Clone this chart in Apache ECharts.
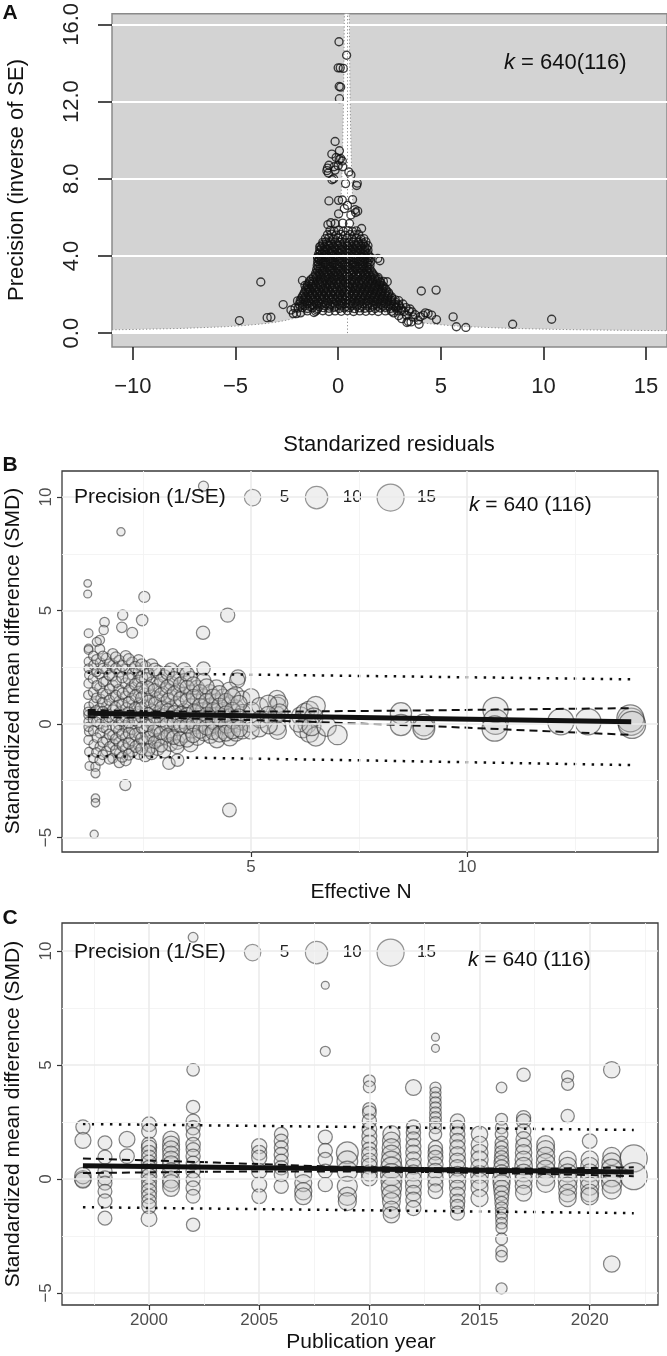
<!DOCTYPE html>
<html><head><meta charset="utf-8">
<script src="https://cdn.jsdelivr.net/npm/echarts@6/dist/echarts.min.js"></script>
<style>html,body{margin:0;padding:0;background:#fff}#c{width:667px;height:1356px}</style>
</head><body><div id="c"></div>
<script>
const FONT = '"Liberation Sans", Arial, Helvetica, sans-serif';

// ---------- Panel A : funnel of standardized residuals ----------
const ticksAx = [-10, -5, 0, 5, 10, 15];
const ticksAy = [0, 4, 8, 12, 16];
const rangeAx = [-11.02, 16.02];
const rangeAy = [-0.72, 16.55];
const funnelCenter = 0.42;
const funnelZ = 1.96;
const funnelDistances = [15.6, 13, 11.44, 10, 8, 6, 5, 4, 3.4, 3, 2.6, 2.2, 1.9, 1.6, 1.35, 1.1, 0.9, 0.75, 0.6, 0.5, 0.42, 0.35, 0.29, 0.24, 0.2, 0.17, 0.145, 0.1184];
const kLabelA = '640(116)';
const residualsA = [
[0.04,15.1],[0.41,14.4],[0.0,13.75],[0.1,13.75],[0.25,13.72],[0.05,12.78],[0.12,12.75],[0.06,12.15],
[-0.15,9.93],[0.06,9.45],[-0.31,9.28],[-0.1,9.1],[0.05,9.0],[0.2,8.92],[0.12,9.05],
[-0.45,8.7],[-0.52,8.55],[-0.2,8.62],[0.0,8.68],[0.22,8.62],[-0.55,8.42],[-0.48,8.3],[-0.15,8.45],
[0.52,8.35],[0.62,8.2],[-0.22,8.0],[-0.3,7.95],[0.93,7.77],[0.9,7.65],[0.36,7.75],
[-0.45,6.85],[0.02,6.88],[0.2,6.9],[0.7,6.92],[0.45,6.62],[0.3,6.45],[0.82,6.4],[0.95,6.32],[0.02,6.18],[0.62,6.12],[0.85,6.25],
[-0.36,5.72],[-0.5,5.62],[-0.15,5.68],[0.22,5.7],[0.55,5.68],[1.14,5.42],
[-0.4,5.32],[-0.2,5.28],[0.02,5.33],[0.25,5.27],[0.48,5.31],[0.7,5.26],[0.88,5.3],
[-0.52,5.1],[-0.33,5.13],[-0.1,5.08],[0.12,5.12],[0.35,5.07],[0.57,5.11],[0.8,5.09],[1.0,5.12],
[-0.62,4.9],[-0.45,4.93],[-0.25,4.88],[-0.02,4.92],[0.2,4.87],[0.42,4.91],[0.65,4.89],[0.88,4.93],[1.1,4.88],[1.25,4.9],
[-0.75,4.7],[-0.58,4.73],[-0.38,4.68],[-0.15,4.72],[0.08,4.69],[0.3,4.71],[0.52,4.67],[0.75,4.72],[0.98,4.7],[1.2,4.68],[1.35,4.73],
[-0.85,4.5],[-0.66,4.47],[-0.45,4.52],[-0.22,4.49],[0.0,4.53],[0.22,4.48],[0.45,4.51],[0.68,4.47],[0.9,4.52],[1.12,4.5],[1.3,4.48],[1.45,4.53],
[-0.9,4.31],[-0.7,4.28],[-0.5,4.32],[-0.28,4.27],[-0.05,4.3],[0.18,4.33],[0.4,4.28],[0.62,4.31],[0.85,4.27],[1.08,4.32],[1.3,4.29],[1.45,4.3],
[-0.95,4.1],[-0.78,4.12],[-0.55,4.08],[-0.32,4.11],[-0.1,4.07],[0.12,4.12],[0.35,4.09],[0.58,4.13],[0.8,4.08],[1.02,4.11],[1.25,4.07],[1.45,4.1],
[-1.0,3.9],[-0.82,3.88],[-0.6,3.92],[-0.38,3.87],[-0.15,3.91],[0.08,3.89],[0.3,3.93],[0.52,3.88],[0.75,3.9],[0.98,3.87],[1.2,3.92],[1.42,3.89],[1.6,3.91],[1.93,3.87],[2.03,3.75],
[-1.0,3.7],[-0.83,3.72],[-0.6,3.68],[-0.38,3.71],[-0.15,3.67],[0.07,3.72],[0.3,3.69],[0.53,3.73],[0.75,3.68],[0.97,3.7],[1.2,3.72],[1.42,3.67],[1.58,3.7],
[-1.02,3.5],[-0.85,3.47],[-0.62,3.52],[-0.4,3.48],[-0.18,3.51],[0.05,3.47],[0.28,3.52],[0.5,3.49],[0.72,3.53],[0.95,3.48],[1.18,3.5],[1.4,3.47],[1.55,3.52],
[-1.05,3.3],[-0.88,3.33],[-0.65,3.28],[-0.42,3.31],[-0.2,3.27],[0.02,3.32],[0.25,3.29],[0.48,3.33],[0.7,3.28],[0.92,3.3],[1.15,3.32],[1.38,3.27],[1.55,3.31],
[-1.1,3.1],[-0.92,3.08],[-0.7,3.12],[-0.48,3.07],[-0.25,3.11],[-0.02,3.09],[0.2,3.13],[0.42,3.08],[0.65,3.1],[0.88,3.07],[1.1,3.12],[1.32,3.09],[1.5,3.11],[1.7,3.08],
[-1.2,2.9],[-1.05,2.92],[-0.85,2.88],[-0.62,2.91],[-0.4,2.87],[-0.18,2.92],[0.05,2.89],[0.28,2.93],[0.5,2.88],[0.72,2.9],[0.95,2.92],[1.18,2.87],[1.4,2.91],[1.62,2.89],[1.8,2.92],[1.95,2.88],
[-1.4,2.7],[-1.25,2.68],[-1.02,2.72],[-0.8,2.67],[-0.58,2.71],[-0.35,2.69],[-0.12,2.73],[0.1,2.68],[0.32,2.7],[0.55,2.67],[0.78,2.72],[1.0,2.69],[1.22,2.71],[1.45,2.68],[1.68,2.72],[1.9,2.7],[2.05,2.67],[2.2,2.68],[2.39,2.66],
[-1.5,2.5],[-1.32,2.52],[-1.1,2.48],[-0.88,2.51],[-0.65,2.47],[-0.42,2.52],[-0.2,2.49],[0.02,2.53],[0.25,2.48],[0.48,2.5],[0.7,2.52],[0.92,2.47],[1.15,2.51],[1.38,2.49],[1.6,2.52],[1.82,2.48],[2.0,2.5],[2.15,2.47],
[-1.58,2.3],[-1.4,2.28],[-1.18,2.32],[-0.95,2.27],[-0.72,2.31],[-0.5,2.29],[-0.28,2.33],[-0.05,2.28],[0.18,2.3],[0.4,2.27],[0.62,2.32],[0.85,2.29],[1.08,2.31],[1.3,2.28],[1.52,2.32],[1.75,2.3],[1.98,2.27],[2.15,2.31],[2.3,2.29],
[-1.65,2.1],[-1.48,2.12],[-1.25,2.08],[-1.02,2.11],[-0.8,2.07],[-0.58,2.12],[-0.35,2.09],[-0.12,2.13],[0.1,2.08],[0.32,2.1],[0.55,2.12],[0.78,2.07],[1.0,2.11],[1.22,2.09],[1.45,2.12],[1.68,2.08],[1.9,2.1],[2.1,2.13],[2.3,2.08],[2.45,2.1],
[-1.75,1.9],[-1.6,1.88],[-1.38,1.92],[-1.15,1.87],[-0.92,1.91],[-0.7,1.89],[-0.48,1.93],[-0.25,1.88],[-0.02,1.9],[0.2,1.87],[0.42,1.92],[0.65,1.89],[0.88,1.91],[1.1,1.88],[1.32,1.92],[1.55,1.9],[1.78,1.87],[2.0,1.91],[2.22,1.89],[2.42,1.92],[2.6,1.88],
[-1.85,1.7],[-1.68,1.72],[-1.45,1.68],[-1.22,1.71],[-1.0,1.67],[-0.78,1.72],[-0.55,1.69],[-0.32,1.73],[-0.1,1.68],[0.12,1.7],[0.35,1.72],[0.58,1.67],[0.8,1.71],[1.02,1.69],[1.25,1.72],[1.48,1.68],[1.7,1.7],[1.92,1.73],[2.15,1.68],[2.38,1.71],[2.6,1.69],[2.78,1.72],[2.95,1.68],
[-1.9,1.5],[-1.72,1.48],[-1.5,1.52],[-1.28,1.47],[-1.05,1.51],[-0.82,1.49],[-0.6,1.53],[-0.38,1.48],[-0.15,1.5],[0.08,1.47],[0.3,1.52],[0.52,1.49],[0.75,1.51],[0.98,1.48],[1.2,1.52],[1.42,1.5],[1.65,1.47],[1.88,1.51],[2.1,1.49],[2.32,1.52],[2.55,1.48],[2.75,1.5],[2.95,1.47],[3.15,1.51],
[-1.95,1.3],[-1.75,1.32],[-1.5,1.28],[-1.25,1.31],[-1.0,1.27],[-0.72,1.32],[-0.45,1.29],[-0.2,1.33],[0.05,1.28],[0.3,1.3],[0.55,1.32],[0.8,1.27],[1.05,1.31],[1.3,1.29],[1.55,1.32],[1.8,1.28],[2.05,1.3],[2.3,1.33],[2.55,1.28],[2.8,1.31],[3.05,1.29],[3.3,1.32],
[-1.5,1.15],[-1.1,1.13],[-0.75,1.16],[-0.45,1.12],[-0.15,1.15],[0.15,1.13],[0.45,1.16],[0.75,1.12],[1.05,1.15],[1.35,1.13],[1.65,1.16],[1.95,1.12],[2.3,1.15],[2.6,1.13],[2.9,1.16],[3.2,1.12],[3.45,1.14],
[2.84,1.36],[3.08,1.19],[3.33,0.93],[3.65,0.84],[3.9,0.67],[4.14,0.93],[4.38,1.01],[4.55,0.93],[4.79,0.7],[5.6,0.84],[5.76,0.33],[6.22,0.29],[8.5,0.46],[10.4,0.72],[4.05,2.18],[4.77,2.23],
[3.35,0.55],[3.42,0.6],[3.55,0.58],[3.94,0.46],[3.1,0.75],[2.95,0.9],[3.75,0.95],[4.0,0.85],[4.25,1.05],[2.7,1.05],[3.6,1.1],[3.5,1.25],
[-4.81,0.65],[-3.77,2.65],[-3.46,0.8],[-3.28,0.82],[-2.68,1.48],[-2.19,1.01],[-2.03,1.01],[-1.83,1.05],[-1.98,1.67],[-1.74,2.73],[-1.62,2.47],[-1.46,2.3],[-1.18,1.07],[-1.04,1.2],[-1.0,3.95],[-0.94,3.8],[-0.9,4.47],[-2.1,1.3],[-2.3,1.2]
];
const residualsACoreFill = [
[-0.75,4.6],[-0.54,4.62],[-0.32,4.59],[-0.1,4.61],[0.12,4.58],[0.34,4.62],[0.56,4.6],[0.78,4.59],[1.0,4.61],[1.22,4.6],
[-0.82,4.4],[-0.6,4.42],[-0.38,4.39],[-0.16,4.41],[0.06,4.38],[0.28,4.42],[0.5,4.4],[0.72,4.39],[0.94,4.41],[1.16,4.38],[1.38,4.41],
[-0.88,4.2],[-0.66,4.22],[-0.44,4.19],[-0.22,4.21],[0.0,4.18],[0.22,4.22],[0.44,4.2],[0.66,4.19],[0.88,4.21],[1.1,4.18],[1.32,4.21],
[-0.9,4.0],[-0.68,4.02],[-0.46,3.99],[-0.24,4.01],[-0.02,3.98],[0.2,4.02],[0.42,4.0],[0.64,3.99],[0.86,4.01],[1.08,3.98],[1.3,4.01],[1.5,4.0],
[-0.92,3.8],[-0.7,3.82],[-0.48,3.79],[-0.26,3.81],[-0.04,3.78],[0.18,3.82],[0.4,3.8],[0.62,3.79],[0.84,3.81],[1.06,3.78],[1.28,3.81],[1.48,3.8],
[-0.95,3.6],[-0.73,3.62],[-0.51,3.59],[-0.29,3.61],[-0.07,3.58],[0.15,3.62],[0.37,3.6],[0.59,3.59],[0.81,3.61],[1.03,3.58],[1.25,3.61],[1.46,3.6],
[-0.97,3.4],[-0.75,3.42],[-0.53,3.39],[-0.31,3.41],[-0.09,3.38],[0.13,3.42],[0.35,3.4],[0.57,3.39],[0.79,3.41],[1.01,3.38],[1.23,3.41],[1.45,3.4],
[-1.0,3.2],[-0.78,3.22],[-0.56,3.19],[-0.34,3.21],[-0.12,3.18],[0.1,3.22],[0.32,3.2],[0.54,3.19],[0.76,3.21],[0.98,3.18],[1.2,3.21],[1.42,3.2],[1.62,3.19],
[-1.1,3.0],[-0.88,3.02],[-0.66,2.99],[-0.44,3.01],[-0.22,2.98],[0.0,3.02],[0.22,3.0],[0.44,2.99],[0.66,3.01],[0.88,2.98],[1.1,3.01],[1.32,3.0],[1.54,2.99],[1.72,3.01],
[-1.3,2.8],[-1.08,2.82],[-0.86,2.79],[-0.64,2.81],[-0.42,2.78],[-0.2,2.82],[0.02,2.8],[0.24,2.79],[0.46,2.81],[0.68,2.78],[0.9,2.81],[1.12,2.8],[1.34,2.79],[1.56,2.81],[1.78,2.8],[1.95,2.79],
[-1.42,2.6],[-1.2,2.62],[-0.98,2.59],[-0.76,2.61],[-0.54,2.58],[-0.32,2.62],[-0.1,2.6],[0.12,2.59],[0.34,2.61],[0.56,2.58],[0.78,2.61],[1.0,2.6],[1.22,2.59],[1.44,2.61],[1.66,2.6],[1.88,2.59],[2.08,2.61],
[-1.5,2.4],[-1.28,2.42],[-1.06,2.39],[-0.84,2.41],[-0.62,2.38],[-0.4,2.42],[-0.18,2.4],[0.04,2.39],[0.26,2.41],[0.48,2.38],[0.7,2.41],[0.92,2.4],[1.14,2.39],[1.36,2.41],[1.58,2.4],[1.8,2.39],[2.02,2.41],[2.22,2.4],
[-1.58,2.2],[-1.36,2.22],[-1.14,2.19],[-0.92,2.21],[-0.7,2.18],[-0.48,2.22],[-0.26,2.2],[-0.04,2.19],[0.18,2.21],[0.4,2.18],[0.62,2.21],[0.84,2.2],[1.06,2.19],[1.28,2.21],[1.5,2.2],[1.72,2.19],[1.94,2.21],[2.16,2.2],[2.36,2.19],
[-1.68,2.0],[-1.46,2.02],[-1.24,1.99],[-1.02,2.01],[-0.8,1.98],[-0.58,2.02],[-0.36,2.0],[-0.14,1.99],[0.08,2.01],[0.3,1.98],[0.52,2.01],[0.74,2.0],[0.96,1.99],[1.18,2.01],[1.4,2.0],[1.62,1.99],[1.84,2.01],[2.06,2.0],[2.28,1.99],[2.48,2.01],
[-1.78,1.8],[-1.56,1.82],[-1.34,1.79],[-1.12,1.81],[-0.9,1.78],[-0.68,1.82],[-0.46,1.8],[-0.24,1.79],[-0.02,1.81],[0.2,1.78],[0.42,1.81],[0.64,1.8],[0.86,1.79],[1.08,1.81],[1.3,1.8],[1.52,1.79],[1.74,1.81],[1.96,1.8],[2.18,1.79],[2.4,1.81],[2.62,1.8],
[-1.82,1.6],[-1.6,1.62],[-1.38,1.59],[-1.16,1.61],[-0.94,1.58],[-0.72,1.62],[-0.5,1.6],[-0.28,1.59],[-0.06,1.61],[0.16,1.58],[0.38,1.61],[0.6,1.6],[0.82,1.59],[1.04,1.61],[1.26,1.6],[1.48,1.59],[1.7,1.61],[1.92,1.6],[2.14,1.59],[2.36,1.61],[2.58,1.6],[2.8,1.59],
[-1.86,1.4],[-1.62,1.42],[-1.4,1.39],[-1.16,1.41],[-0.92,1.38],[-0.66,1.42],[-0.4,1.4],[-0.14,1.39],[0.12,1.41],[0.38,1.38],[0.64,1.41],[0.9,1.4],[1.16,1.39],[1.42,1.41],[1.68,1.4],[1.94,1.39],[2.2,1.41],[2.46,1.4],[2.72,1.39],[2.98,1.41]
];

// ---------- Panel B : SMD vs effective N ----------
const ticksBx = [5, 10];
const ticksBy = [-5, 0, 5, 10];
const minorBx = [2.5, 7.5, 12.5];
const minorBy = [-2.5, 2.5, 7.5];
const rangeBx = [0.625, 14.42];
const rangeBy = [-5.64, 11.15];
const bubblesB = [
[3.9,10.48,1.3],[1.99,8.47,0.6],[1.22,6.2,0.4],[1.22,5.73,0.5],[2.53,5.6,1.8],[4.46,4.8,3.5],
[2.03,4.8,1.4],[2.48,4.58,2.0],[1.61,4.49,1.1],[2.01,4.26,1.5],[2.25,4.02,1.7],[1.59,4.14,1.0],[1.24,4.0,0.8],[1.5,3.7,1.1],[1.43,3.62,0.9],[1.24,3.33,0.7],[1.24,3.26,0.8],[3.89,4.02,3.0],[3.9,2.45,3.0],[4.7,2.05,4.2],[4.68,1.92,4.2],
[1.26,-1.85,0.8],[1.4,-1.88,1.0],[1.4,-2.17,0.9],[2.09,-2.69,1.8],[1.4,-3.27,0.7],[1.4,-3.47,0.7],[1.37,-4.86,0.6],[4.5,-3.79,3.2],[3.1,-1.73,2.5],[3.3,-1.59,2.6],
[1.24,2.75,0.8],[1.24,2.45,0.9],[1.25,2.16,0.8],[1.24,1.79,1.0],[1.23,1.28,0.9],[1.25,0.76,1.0],[1.24,0.4,1.1],[1.24,0.1,1.0],[1.25,-0.34,0.9],[1.24,-0.7,1.0],[1.25,-1.22,0.8],[1.23,0.55,0.9],[1.24,-0.12,1.0],
[1.35,3.0,1.1],[1.36,2.6,1.2],[1.34,2.0,1.0],[1.35,1.4,1.2],[1.36,0.9,1.1],[1.35,0.5,1.3],[1.34,0.2,1.0],[1.35,-0.3,1.2],[1.36,-0.9,1.1],[1.35,-1.5,1.0],
[1.5,3.3,1.2],[1.51,2.7,1.3],[1.49,2.2,1.1],[1.5,1.6,1.4],[1.52,1.1,1.2],[1.5,0.7,1.3],[1.49,0.3,1.5],[1.5,0.0,1.2],[1.51,-0.4,1.4],[1.5,-1.0,1.1],[1.5,-1.6,1.2],
[1.65,2.9,1.3],[1.66,2.4,1.4],[1.64,1.9,1.2],[1.65,1.3,1.5],[1.66,0.8,1.3],[1.65,0.45,1.6],[1.64,0.1,1.4],[1.65,-0.2,1.3],[1.66,-0.7,1.5],[1.65,-1.2,1.2],
[1.8,3.1,1.4],[1.81,2.6,1.5],[1.79,2.1,1.3],[1.8,1.7,1.6],[1.82,1.2,1.4],[1.8,0.6,1.7],[1.79,0.2,1.5],[1.8,-0.5,1.4],[1.81,-0.9,1.6],[1.8,-1.5,1.3],
[1.95,2.8,1.5],[1.96,2.3,1.6],[1.94,1.5,1.8],[1.95,1.0,1.5],[1.96,0.5,1.7],[1.95,0.0,1.9],[1.94,-0.3,1.6],[1.95,-0.8,1.7],[1.96,-1.3,1.5],[1.95,-1.7,1.4],
[2.1,3.0,1.7],[2.11,2.4,1.8],[2.09,1.8,1.6],[2.1,1.2,2.0],[2.12,0.7,1.8],[2.1,0.3,2.1],[2.09,-0.1,1.9],[2.1,-0.6,1.8],[2.11,-1.1,2.0],[2.1,-1.6,1.7],
[2.25,2.7,1.9],[2.26,2.2,2.0],[2.24,1.6,2.2],[2.25,1.1,1.9],[2.26,0.4,2.3],[2.25,-0.2,2.1],[2.24,-0.7,2.0],[2.25,-1.2,1.9],
[2.4,2.8,2.0],[2.41,2.3,2.2],[2.39,1.9,2.1],[2.4,1.4,2.4],[2.42,0.9,2.2],[2.4,0.5,2.5],[2.39,0.1,2.3],[2.4,-0.4,2.2],[2.41,-0.9,2.4],[2.4,-1.3,2.1],
[2.55,2.5,2.3],[2.56,2.0,2.4],[2.54,1.3,2.6],[2.55,0.8,2.3],[2.56,0.2,2.7],[2.55,-0.3,2.5],[2.54,-0.8,2.4],[2.55,-1.4,2.2],
[2.7,2.6,2.5],[2.71,1.8,2.6],[2.69,1.2,2.8],[2.7,0.6,2.5],[2.72,0.0,2.9],[2.7,-0.5,2.7],[2.69,-1.0,2.6],[2.7,-1.3,2.4],
[2.85,2.3,2.7],[2.86,1.7,2.8],[2.84,1.1,3.0],[2.85,0.5,2.7],[2.86,-0.2,3.1],[2.85,-0.7,2.9],[2.84,-1.1,2.8],
[3.0,2.1,2.9],[3.01,1.5,3.0],[2.99,0.9,3.2],[3.0,0.4,2.9],[3.02,-0.1,3.3],[3.0,-0.6,3.1],[2.99,-1.2,3.0],
[3.15,2.4,3.1],[3.16,1.8,3.2],[3.14,1.2,3.4],[3.15,0.7,3.1],[3.16,0.2,3.5],[3.15,-0.4,3.3],[3.14,-0.9,3.2],
[3.3,2.2,3.3],[3.31,1.5,3.4],[3.29,0.9,3.6],[3.3,0.3,3.3],[3.32,-0.2,3.7],[3.3,-0.8,3.5],[3.29,-1.0,3.4],
[3.45,2.4,3.4],[3.46,1.9,3.6],[3.44,1.3,3.8],[3.45,0.6,3.5],[3.46,0.1,3.9],[3.45,-0.5,3.7],
[3.6,2.0,3.6],[3.61,1.4,3.8],[3.59,0.8,4.0],[3.6,0.2,3.7],[3.62,-0.3,4.1],[3.6,-0.9,3.9],
[3.75,1.6,3.8],[3.76,1.0,4.0],[3.74,0.5,4.2],[3.75,-0.1,3.9],[3.76,-0.6,4.3],
[3.9,1.9,4.0],[3.91,1.2,4.1],[3.89,0.6,4.3],[3.9,0.0,4.0],[3.91,-0.4,4.4],
[4.05,1.4,4.1],[4.06,0.8,4.3],[4.04,0.3,4.5],[4.05,-0.2,4.2],[4.06,-0.5,4.6],
[4.2,1.6,4.3],[4.21,1.0,4.4],[4.19,0.4,4.6],[4.2,-0.1,4.3],[4.21,-0.7,4.7],
[4.35,1.2,4.4],[4.36,0.6,4.6],[4.34,0.1,4.8],[4.35,-0.3,4.5],
[4.5,1.5,4.6],[4.51,0.9,4.7],[4.49,0.3,4.9],[4.5,-0.2,4.6],[4.51,-0.6,5.0],
[4.65,1.3,4.7],[4.66,0.7,4.9],[4.64,0.0,5.1],[4.65,-0.4,4.8],
[4.8,1.1,4.9],[4.81,0.5,5.0],[4.79,0.1,5.2],[4.8,-0.3,4.9],
[5.0,1.2,5.0],[5.01,0.6,5.2],[4.99,0.0,5.3],[5.0,-0.3,5.1],
[5.2,0.8,5.2],[5.21,0.2,5.4],[5.19,-0.2,5.3],
[5.6,1.1,5.6],[5.61,0.8,5.8],[5.59,0.4,5.7],[5.6,-0.1,5.9],[5.62,-0.3,5.6],[5.65,0.9,5.8],[5.66,0.5,5.7],
[6.15,0.35,6.5],[6.25,0.5,6.7],[6.35,0.6,6.8],[6.5,0.8,7.0],[6.45,0.3,6.9],[6.3,0.0,6.6],[6.2,-0.2,6.7],[6.35,-0.4,6.8],[6.5,-0.55,7.0],[6.1,0.05,6.5],[6.4,-0.1,6.9],
[6.75,-0.12,7.2],[7.0,-0.48,7.5],
[8.47,0.47,9.0],[8.47,-0.04,9.0],[9.0,-0.04,9.5],[9.0,-0.2,9.5],[10.66,0.62,13],[10.66,0.1,13],[10.64,-0.2,13],[12.17,0.1,14],[12.8,0.1,14],[13.8,0.1,15],[13.78,0.25,15],[13.82,-0.04,15]
];
const bubblesBFill = [
[1.42,2.85,1.1],[1.42,2.3,1.1],[1.43,1.7,1.2],[1.42,1.15,1.1],[1.41,0.6,1.2],[1.42,0.1,1.1],[1.43,-0.6,1.0],[1.42,-1.25,1.1],
[1.57,3.0,1.2],[1.57,2.45,1.3],[1.58,1.85,1.2],[1.57,1.35,1.3],[1.56,0.95,1.2],[1.57,0.55,1.4],[1.58,-0.15,1.2],[1.57,-0.8,1.3],[1.57,-1.35,1.2],
[1.72,2.65,1.3],[1.72,2.15,1.4],[1.73,1.55,1.3],[1.72,1.05,1.4],[1.71,0.3,1.3],[1.72,-0.45,1.4],[1.73,-1.0,1.3],[1.72,-1.55,1.2],
[1.87,2.95,1.5],[1.87,2.45,1.5],[1.88,1.85,1.6],[1.87,1.25,1.5],[1.86,0.75,1.6],[1.87,0.35,1.5],[1.88,-0.15,1.6],[1.87,-0.65,1.5],[1.87,-1.15,1.4],
[2.02,2.55,1.7],[2.02,2.05,1.7],[2.03,1.35,1.8],[2.02,0.85,1.7],[2.01,0.15,1.8],[2.02,-0.45,1.7],[2.03,-0.95,1.8],[2.02,-1.45,1.6],
[2.17,2.85,1.9],[2.17,2.0,1.9],[2.18,1.45,2.0],[2.17,0.95,1.9],[2.16,0.5,2.0],[2.17,0.05,1.9],[2.18,-0.4,2.0],[2.17,-0.85,1.9],[2.17,-1.35,1.8],
[2.32,2.5,2.1],[2.32,1.75,2.1],[2.33,1.25,2.2],[2.32,0.7,2.1],[2.31,0.2,2.2],[2.32,-0.45,2.1],[2.33,-1.0,2.0],
[2.47,2.6,2.3],[2.47,2.05,2.3],[2.48,1.6,2.4],[2.47,1.15,2.3],[2.46,0.7,2.4],[2.47,0.3,2.3],[2.48,-0.15,2.4],[2.47,-0.65,2.3],[2.47,-1.1,2.2],
[2.62,2.2,2.5],[2.62,1.6,2.5],[2.63,1.0,2.6],[2.62,0.45,2.5],[2.61,-0.05,2.6],[2.62,-0.6,2.5],[2.63,-1.15,2.4],
[2.77,2.4,2.7],[2.77,1.5,2.7],[2.78,0.9,2.8],[2.77,0.3,2.7],[2.76,-0.3,2.8],[2.77,-0.8,2.6],
[2.92,1.9,2.9],[2.92,1.3,2.9],[2.93,0.7,3.0],[2.92,0.15,2.9],[2.91,-0.4,3.0],[2.92,-0.95,2.8],
[3.07,2.25,3.1],[3.07,1.65,3.1],[3.08,1.05,3.2],[3.07,0.6,3.1],[3.06,0.0,3.2],[3.07,-0.5,3.0],
[3.22,2.0,3.3],[3.22,1.35,3.3],[3.23,0.5,3.4],[3.22,0.05,3.3],[3.21,-0.6,3.2],
[3.37,1.75,3.5],[3.37,1.1,3.5],[3.38,0.45,3.6],[3.37,-0.05,3.5],[3.36,-0.65,3.4],
[3.52,2.2,3.7],[3.52,1.6,3.7],[3.53,1.05,3.8],[3.52,0.4,3.7],[3.51,-0.1,3.8],[3.52,-0.7,3.6],
[3.67,1.75,3.9],[3.67,1.2,3.9],[3.68,0.55,4.0],[3.67,0.0,3.9],[3.66,-0.5,3.8],
[3.82,1.4,4.1],[3.82,0.8,4.1],[3.83,0.25,4.2],[3.82,-0.3,4.0],
[3.97,1.65,4.2],[3.97,1.0,4.2],[3.98,0.4,4.3],[3.97,-0.15,4.2],
[4.12,1.2,4.4],[4.12,0.6,4.4],[4.13,0.1,4.5],[4.12,-0.35,4.3],
[4.27,1.35,4.5],[4.27,0.8,4.5],[4.28,0.25,4.6],[4.27,-0.45,4.4],
[4.42,1.0,4.7],[4.42,0.45,4.7],[4.43,-0.05,4.8],[4.42,-0.4,4.6],
[4.57,1.2,4.8],[4.57,0.6,4.8],[4.58,0.15,4.9],[4.57,-0.3,4.7],
[4.72,0.9,5.0],[4.72,0.3,5.0],[4.73,-0.2,5.1],
[5.4,0.9,5.5],[5.4,0.4,5.5],[5.41,-0.05,5.6]
];
const fitB = [[1.22, 0.47], [13.8, 0.1]];
const ciUpperB = [[1.22, 0.62], [3, 0.55], [6, 0.55], [9, 0.6], [13.8, 0.7]];
const ciLowerB = [[1.22, 0.3], [3, 0.28], [6, 0.12], [9, -0.08], [13.8, -0.48]];
const piUpperB = [[1.22, 2.26], [7.5, 2.12], [13.8, 1.97]];
const piLowerB = [[1.22, -1.41], [7.5, -1.6], [13.8, -1.81]];

// ---------- Panel C : SMD vs publication year ----------
const ticksCx = [2000, 2005, 2010, 2015, 2020];
const ticksCy = [-5, 0, 5, 10];
const minorCx = [1997.5, 2002.5, 2007.5, 2012.5, 2017.5, 2022.5];
const minorCy = [-2.5, 2.5, 7.5];
const rangeCx = [1996.05, 2023.1];
const rangeCy = [-5.53, 11.23];
const bubblesC = [
[1997,2.28,3.5],[1997,1.69,4.7],[1997,0.0,5.2],[1997,0.15,5.0],[1997,-0.05,4.8],
[1998,1.59,3.3],[1998,0.96,3.4],[1998,0.34,3.5],[1998,0.04,3.6],[1998,-0.18,3.4],[1998,-0.54,3.3],[1998,-0.96,3.4],[1998,-1.72,3.3],
[1999,1.74,4.6],[1999,1.0,3.8],
[2000,2.4,3.8],[2000,2.1,3.9],[2000,1.51,4.0],[2000,1.37,4.2],[2000,1.15,4.0],[2000,0.93,4.1],[2000,0.71,4.3],[2000,0.49,4.0],[2000,0.34,4.2],[2000,0.12,4.4],[2000,-0.1,4.1],[2000,-0.32,4.0],[2000,-0.54,4.2],[2000,-0.76,4.0],[2000,-0.99,3.9],[2000,-1.2,3.8],[2000,-1.75,4.5],
[2001,1.74,5.0],[2001,1.51,5.4],[2001,1.29,5.5],[2001,1.07,5.2],[2001,0.85,5.4],[2001,0.63,5.6],[2001,0.34,5.3],[2001,-0.03,5.5],[2001,-0.18,5.4],[2001,-0.4,5.2],
[2002,10.6,1.2],[2002,4.79,2.5],[2002,3.16,3.0],[2002,2.54,3.4],[2002,2.25,3.5],[2002,1.96,3.3],[2002,1.51,3.6],[2002,1.29,3.4],[2002,1.0,3.5],[2002,0.7,3.3],[2002,0.34,3.6],[2002,-0.03,3.4],[2002,-0.4,3.5],[2002,-0.76,3.3],[2002,-2.01,3.0],
[2005,1.44,4.2],[2005,1.15,4.0],[2005,0.93,4.1],[2005,0.34,4.3],[2005,-0.25,4.0],[2005,-0.76,3.8],
[2006,1.96,3.2],[2006,1.66,3.4],[2006,1.37,3.3],[2006,1.07,3.5],[2006,0.78,3.4],[2006,0.49,3.6],[2006,0.19,3.4],[2006,-0.32,3.5],
[2007,0.19,5.2],[2007,-0.18,5.4],[2007,-0.54,5.5],[2007,-0.76,5.3],
[2008,8.5,0.5],[2008,5.6,1.3],[2008,1.84,3.4],[2008,1.25,3.5],[2008,0.85,3.6],[2008,0.34,3.4],[2008,-0.25,3.5],
[2009,1.15,9.5],[2009,0.78,8.5],[2009,0.34,8.0],[2009,-0.32,7.8],[2009,-0.76,6.5],[2009,-0.99,6.2],
[2010,4.31,2.2],[2010,4.04,2.3],[2010,3.06,3.0],[2010,2.91,3.2],[2010,2.54,3.5],[2010,2.18,3.8],[2010,1.88,4.0],[2010,1.59,4.2],[2010,1.29,4.0],[2010,1.07,4.4],[2010,0.78,4.6],[2010,0.56,4.5],[2010,0.26,4.8],[2010,0.04,4.6],
[2011,1.96,5.5],[2011,1.66,6.0],[2011,1.37,6.5],[2011,1.07,7.0],[2011,0.78,8.0],[2011,0.49,9.0],[2011,0.19,9.5],[2011,-0.1,8.5],[2011,-0.4,8.0],[2011,-0.69,7.0],[2011,-0.99,6.0],[2011,-1.35,5.5],[2011,-1.57,5.0],
[2012,4.01,4.6],[2012,2.28,3.5],[2012,2.03,3.6],[2012,1.74,3.8],[2012,1.44,4.0],[2012,1.15,4.2],[2012,0.85,4.4],[2012,0.56,4.6],[2012,0.26,4.8],[2012,-0.03,5.0],[2012,-0.32,4.6],[2012,-0.62,4.4],[2012,-0.91,4.2],[2012,-1.28,4.0],
[2013,6.22,0.5],[2013,5.73,0.5],[2013,4.01,1.8],[2013,3.79,1.8],[2013,3.57,1.9],[2013,3.35,2.0],[2013,3.13,2.0],[2013,2.91,2.1],[2013,2.69,2.2],[2013,2.47,2.3],[2013,2.25,2.3],[2013,1.96,2.5],[2013,1.37,3.5],[2013,1.15,3.8],[2013,0.93,4.0],[2013,0.63,4.2],[2013,0.34,4.5],[2013,0.04,4.3],[2013,-0.25,4.0],[2013,-0.54,3.8],
[2014,2.54,3.6],[2014,2.25,3.8],[2014,1.96,4.0],[2014,1.66,4.2],[2014,1.37,4.4],[2014,1.07,4.6],[2014,0.78,4.8],[2014,0.49,5.0],[2014,0.19,5.2],[2014,-0.1,5.0],[2014,-0.4,4.6],[2014,-0.69,4.2],[2014,-0.99,3.8],[2014,-1.21,3.5],[2014,-1.5,3.4],
[2015,1.96,5.0],[2015,1.51,5.2],[2015,1.15,5.4],[2015,0.85,5.6],[2015,0.49,5.8],[2015,0.19,6.0],[2015,-0.1,5.6],[2015,-0.4,5.4],[2015,-0.84,5.5],
[2016,4.01,1.6],[2016,2.62,2.2],[2016,2.25,2.4],[2016,1.96,2.6],[2016,1.59,2.8],[2016,1.37,3.0],[2016,1.15,3.2],[2016,0.93,3.6],[2016,0.71,4.0],[2016,0.49,4.5],[2016,0.26,5.0],[2016,0.04,6.0],[2016,-0.18,5.5],[2016,-0.4,4.8],[2016,-0.62,4.0],[2016,-0.84,3.4],[2016,-1.06,3.0],[2016,-1.28,2.6],[2016,-1.5,2.4],[2016,-1.72,2.2],[2016,-1.94,2.0],[2016,-2.16,1.9],[2016,-2.63,2.2],[2016,-3.17,2.0],[2016,-3.39,2.0],[2016,-4.8,1.8],
[2017,4.57,3.0],[2017,2.69,3.5],[2017,2.54,3.6],[2017,2.1,3.8],[2017,1.74,4.2],[2017,1.44,4.6],[2017,1.15,5.0],[2017,0.85,5.4],[2017,0.56,5.8],[2017,0.26,6.0],[2017,-0.03,5.6],[2017,-0.32,5.2],[2017,-0.62,4.8],
[2018,1.51,6.0],[2018,1.29,6.2],[2018,1.0,6.4],[2018,0.71,6.6],[2018,0.41,6.8],[2018,0.12,7.0],[2018,-0.18,6.5],
[2019,4.49,2.3],[2019,4.16,2.4],[2019,2.76,3.0],[2019,0.85,5.5],[2019,0.56,6.0],[2019,0.26,6.5],[2019,-0.03,7.0],[2019,-0.32,6.5],[2019,-0.62,6.0],[2019,-0.84,5.5],
[2020,1.66,3.8],[2020,0.85,5.6],[2020,0.56,6.0],[2020,0.26,6.4],[2020,-0.03,6.8],[2020,-0.32,6.4],[2020,-0.62,6.0],[2020,-0.76,5.6],
[2021,4.79,5.0],[2021,1.0,6.0],[2021,0.71,7.5],[2021,0.41,8.5],[2021,0.12,9.0],[2021,-0.18,8.0],[2021,-0.47,7.0],[2021,-3.73,5.0],
[2022,0.9,15],[2022,0.12,15]
];
const fitC = [[1997, 0.58], [2022, 0.31]];
const ciUpperC = [[1997, 0.9], [2003, 0.72], [2008, 0.55], [2013, 0.47], [2018, 0.45], [2022, 0.51]];
const ciLowerC = [[1997, 0.26], [2003, 0.32], [2008, 0.33], [2013, 0.3], [2018, 0.22], [2022, 0.12]];
const piUpperC = [[1997, 2.41], [2022, 2.15]];
const piLowerC = [[1997, -1.24], [2022, -1.5]];

const legendPrecision = [5, 10, 15];
const kLabelBC = '640 (116)';

// ---------- helpers ----------
const bubbleSize = p => Math.sqrt(40 + 46 * p);
const minus = v => String(v).replace('-', '\u2212');

function funnelCurve() {
  const maxLeft = funnelCenter - rangeAx[0];
  const left = funnelDistances.filter(d => d <= maxLeft + 1e-9).map(d => [funnelCenter - d, Math.min(rangeAy[1], funnelZ / d)]);
  left.unshift([rangeAx[0], funnelZ / maxLeft]);
  const right = funnelDistances.slice().reverse().map(d => [funnelCenter + d, Math.min(rangeAy[1], funnelZ / d)]);
  return left.concat(right);
}

function axisX(gi, range, ticks, o) {
  return {
    type: 'value', gridIndex: gi, min: range[0], max: range[1],
    axisLine: { show: false, onZero: false }, splitLine: { show: false },
    axisTick: { show: true, customValues: ticks, length: o.tickLen, lineStyle: { color: o.tickColor, width: o.tickWidth } },
    axisLabel: { customValues: ticks, fontSize: o.fs, color: o.labelColor, fontFamily: FONT, margin: o.margin, formatter: o.fmt || minus }
  };
}
function axisY(gi, range, ticks, o) {
  const a = axisX(gi, range, ticks, o);
  a.axisLabel.rotate = 90;
  return a;
}

function gridSeries(xi, xs, ys, style, z) {
  return {
    type: 'scatter', xAxisIndex: xi, yAxisIndex: xi, data: [], z: z, silent: true,
    markLine: {
      silent: true, symbol: 'none', animation: false, label: { show: false },
      lineStyle: style, emphasis: { disabled: true },
      data: xs.map(v => ({ xAxis: v })).concat(ys.map(v => ({ yAxis: v })))
    }
  };
}

function lineSeries(xi, data, style, z) {
  return { type: 'line', xAxisIndex: xi, yAxisIndex: xi, data: data, symbol: 'none', z: z, silent: true, lineStyle: style };
}

const majorStyle = { color: '#ebebeb', width: 1.6, type: 'solid' };
const minorStyle = { color: '#f3f3f3', width: 0.9, type: 'solid' };
const bubbleStyle = { color: 'rgba(200,200,200,0.4)', borderColor: 'rgba(45,45,45,0.72)', borderWidth: 1.25 };

function bubbleSeries(xi, data) {
  return {
    type: 'scatter', xAxisIndex: xi, yAxisIndex: xi, data: data, z: 2,
    symbol: 'circle', symbolSize: v => bubbleSize(v[2]), itemStyle: bubbleStyle, silent: true
  };
}

function regressionSeries(xi, fit, ciU, ciL, piU, piL) {
  const dotted = { color: '#111', width: 2.5, type: [2.5, 6.5], cap: 'butt' };
  const dashed = { color: '#111', width: 2, type: [8, 5] };
  return [
    lineSeries(xi, piU, dotted, 3), lineSeries(xi, piL, dotted, 3),
    lineSeries(xi, ciU, dashed, 4), lineSeries(xi, ciL, dashed, 4),
    lineSeries(xi, fit, { color: '#111', width: 5, type: 'solid' }, 5)
  ];
}

const legendPos = { 5: [252, 14], 10: [316, 10], 15: [390, 8] };
function sizeLegends(prefix, cy) {
  return legendPrecision.map(p => {
    const s = bubbleSize(p);
    return {
      show: true, data: [{ name: prefix + p, icon: 'circle' }],
      left: legendPos[p][0] - s / 2, top: cy - s / 2, padding: 0,
      itemWidth: s, itemHeight: s, selectedMode: false,
      itemStyle: { color: '#ebebeb', borderColor: '#7a7a7a', borderWidth: 1.2 },
      formatter: () => String(p),
      textStyle: { fontSize: 17, color: '#222', fontFamily: FONT, padding: [0, 0, 0, legendPos[p][1]] }
    };
  });
}
function legendDummySeries(prefix, xi) {
  return legendPrecision.map(p => ({ type: 'scatter', name: prefix + p, xAxisIndex: xi, yAxisIndex: xi, data: [],
    itemStyle: { color: '#ebebeb', borderColor: '#7a7a7a', borderWidth: 1.2 } }));
}

function txt(x, y, text, fs, opt) {
  opt = opt || {};
  return {
    type: 'text', x: x, y: y, rotation: opt.rot || 0, z: 100,
    style: Object.assign({
      text: text, fontSize: fs, fontFamily: FONT, fontWeight: opt.bold ? 'bold' : 'normal',
      fill: opt.color || '#111', align: opt.align || 'center', verticalAlign: 'middle'
    }, opt.rich ? { rich: opt.rich } : {})
  };
}
const richK = fs => ({ i: { fontStyle: 'italic', fontSize: fs, fontFamily: FONT, fill: '#111' } });

const chart = echarts.init(document.getElementById('c'), null, { renderer: 'canvas' });

const oA = { tickLen: 13, tickColor: '#222', tickWidth: 1.6, fs: 22, labelColor: '#222', margin: 29 };
const oB = { tickLen: 5, tickColor: '#333', tickWidth: 1.2, fs: 17, labelColor: '#4d4d4d', margin: 7 };

const option = {
  animation: false,
  backgroundColor: '#fff',
  grid: [
    { left: 112, top: 12, width: 555, height: 335, show: true, backgroundColor: '#d3d3d3', borderColor: '#8a8a8a', borderWidth: 1.5 },
    { left: 62, top: 471, width: 596, height: 381, show: true, backgroundColor: '#fff', borderColor: '#3a3a3a', borderWidth: 1.3 },
    { left: 62, top: 923, width: 596, height: 382, show: true, backgroundColor: '#fff', borderColor: '#3a3a3a', borderWidth: 1.3 }
  ],
  xAxis: [
    axisX(0, rangeAx, ticksAx, oA),
    axisX(1, rangeBx, ticksBx, oB),
    axisX(2, rangeCx, ticksCx, Object.assign({}, oB, { fmt: v => String(v) }))
  ],
  yAxis: [
    axisY(0, rangeAy, ticksAy, Object.assign({}, oA, { tickLen: 14, fmt: v => v.toFixed(1) })),
    axisY(1, rangeBy, ticksBy, oB),
    axisY(2, rangeCy, ticksCy, oB)
  ],
  legend: sizeLegends('B', 497).concat(sizeLegends('C', 952)),
  series: [
    gridSeries(0, [], ticksAy, { color: '#fff', width: 2, type: 'solid' }, 1),
    {
      type: 'line', xAxisIndex: 0, yAxisIndex: 0, data: funnelCurve(), symbol: 'none', z: 2, silent: true,
      lineStyle: { color: '#8c8c8c', width: 1, type: [1.2, 2.2] },
      areaStyle: { color: '#fff', opacity: 1, origin: 0 }
    },
    {
      type: 'scatter', xAxisIndex: 0, yAxisIndex: 0, data: [], z: 3, silent: true,
      markLine: { silent: true, symbol: 'none', label: { show: false }, animation: false,
        lineStyle: { color: '#8c8c8c', width: 1, type: [1.2, 2.2] },
        data: [[{ coord: [funnelCenter, 0] }, { coord: [funnelCenter, rangeAy[1]] }]] }
    },
    {
      type: 'scatter', xAxisIndex: 0, yAxisIndex: 0, data: residualsA.concat(residualsACoreFill), z: 4, silent: true,
      symbol: 'circle', symbolSize: 8,
      itemStyle: { color: 'rgba(0,0,0,0)', borderColor: '#111', borderWidth: 1.35 }
    },
    gridSeries(1, minorBx, minorBy, minorStyle, 1),
    gridSeries(1, ticksBx, ticksBy, majorStyle, 1),
    bubbleSeries(1, bubblesB.concat(bubblesBFill)),
    ...regressionSeries(1, fitB, ciUpperB, ciLowerB, piUpperB, piLowerB),
    gridSeries(2, minorCx, minorCy, minorStyle, 1),
    gridSeries(2, ticksCx, ticksCy, majorStyle, 1),
    bubbleSeries(2, bubblesC),
    ...regressionSeries(2, fitC, ciUpperC, ciLowerC, piUpperC, piLowerC),
    ...legendDummySeries('B', 1),
    ...legendDummySeries('C', 2)
  ],
  graphic: [
    txt(10, 13, 'A', 21, { bold: true }),
    txt(10, 465, 'B', 21, { bold: true }),
    txt(10, 918, 'C', 21, { bold: true }),
    txt(389, 445, 'Standarized residuals', 22),
    txt(17, 180, 'Precision (inverse of SE)', 22, { rot: Math.PI / 2 }),
    txt(504, 63, '{i|k} = ' + kLabelA, 22, { align: 'left', rich: richK(22) }),
    txt(361, 892, 'Effective N', 21),
    txt(13, 661, 'Standardized mean difference (SMD)', 21, { rot: Math.PI / 2 }),
    txt(74, 497, 'Precision (1/SE)', 21, { align: 'left' }),
    txt(469, 505, '{i|k} = ' + kLabelBC, 21, { align: 'left', rich: richK(21) }),
    txt(361, 1342, 'Publication year', 21),
    txt(13, 1114, 'Standardized mean difference (SMD)', 21, { rot: Math.PI / 2 }),
    txt(74, 952, 'Precision (1/SE)', 21, { align: 'left' }),
    txt(468, 960, '{i|k} = ' + kLabelBC, 21, { align: 'left', rich: richK(21) })
  ]
};
chart.setOption(option);
</script>
</body></html>
